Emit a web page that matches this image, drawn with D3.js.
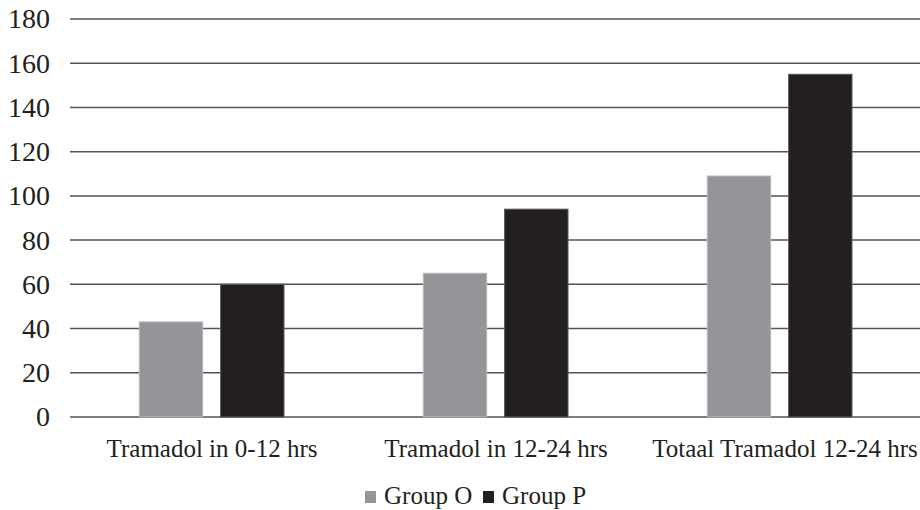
<!DOCTYPE html>
<html><head><meta charset="utf-8">
<script src="https://cdn.jsdelivr.net/npm/d3@7"></script>
<style>body{margin:0;background:#fff}svg{display:block}text{font-family:"Liberation Serif","DejaVu Serif",serif;fill:#231f20}</style>
</head><body><svg id="c" width="920" height="510"></svg>
<script>
const categories = ["Tramadol in 0-12 hrs", "Tramadol in 12-24 hrs", "Totaal Tramadol 12-24 hrs"];
const seriesNames = ["Group O", "Group P"];
const groupO = [43, 65, 109];
const groupP = [60, 94, 155];
const yTicks = [0, 20, 40, 60, 80, 100, 120, 140, 160, 180];
const colors = ["#939598", "#231f20"];
const strokes = ["#b8b9bb", "#5a5a5c"];

const svg = d3.select("#c");
const m = {l: 70, r: -2, t: 19, b: 93};
const W = 920 - m.l - m.r, H = 510 - m.t - m.b;
const g = svg.append("g").attr("transform", `translate(${m.l},${m.t})`);
const x = d3.scaleBand().domain(categories).range([0, W]).paddingInner(0).paddingOuter(0);
const x1 = d3.scaleBand().domain(seriesNames).range([69.3, x.bandwidth() - 70]).paddingInner(0.22);
const y = d3.scaleLinear().domain([0, 180]).range([H, 0]);

g.append("g").selectAll("line").data(yTicks).join("line")
  .attr("x1", 0).attr("x2", W).attr("y1", d => y(d)).attr("y2", d => y(d))
  .attr("stroke", "#555557").attr("stroke-width", 1.5);

const yAxis = d3.axisLeft(y).tickValues(yTicks).tickSize(0).tickPadding(20);
const ya = g.append("g").call(yAxis);
ya.select(".domain").remove();
ya.selectAll("text").style("font-size", "28px").attr("fill", "#231f20");

const data = categories.map((c, i) => ({c, vals: [groupO[i], groupP[i]]}));
const cg = g.selectAll(".cat").data(data).join("g").attr("transform", d => `translate(${x(d.c)},0)`);
cg.selectAll("rect").data(d => d.vals.map((v, j) => ({v, j}))).join("rect")
  .attr("x", d => x1(seriesNames[d.j])).attr("width", x1.bandwidth())
  .attr("y", d => y(d.v)).attr("height", d => H - y(d.v))
  .attr("fill", d => colors[d.j]).attr("stroke", d => strokes[d.j]).attr("stroke-width", 1);

const xAxis = d3.axisBottom(x).tickSize(0).tickPadding(22);
const xa = g.append("g").attr("transform", `translate(0,${H})`).call(xAxis);
xa.select(".domain").remove();
xa.selectAll("text").style("font-size", "25px").attr("fill", "#231f20")
  .attr("dx", (d, i) => i === categories.length - 1 ? 5 : 0);

const leg = svg.append("g");
const items = [{n: seriesNames[0], x: 365}, {n: seriesNames[1], x: 483}];
items.forEach((it, j) => {
  leg.append("rect").attr("x", it.x).attr("y", 491).attr("width", 11).attr("height", 12).attr("fill", colors[j]);
  leg.append("text").attr("x", it.x + 19).attr("y", 504).style("font-size", "25px").text(it.n);
});
</script></body></html>
